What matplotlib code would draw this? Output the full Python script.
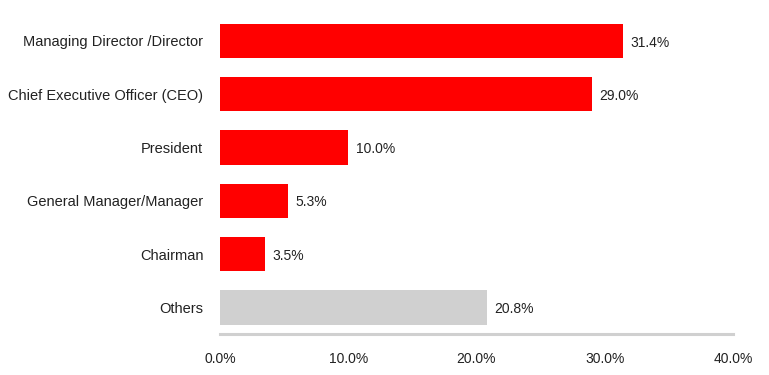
import matplotlib
matplotlib.use("Agg")
import matplotlib.pyplot as plt
from matplotlib.ticker import FuncFormatter

categories = ["Managing Director /Director", "Chief Executive Officer (CEO)", "President",
              "General Manager/Manager", "Chairman", "Others"]
values = [31.4, 29.0, 10.0, 5.3, 3.5, 20.8]
colors = ["#FF0000"] * 5 + ["#D0D0D0"]

plt.rcParams['font.family'] = ['Liberation Sans', 'DejaVu Sans']

fig = plt.figure(figsize=(7.69, 3.75), dpi=100)
ax = fig.add_axes([0.286, 0.109, 0.667, 0.853])

ypos = list(range(len(categories)))
ax.barh(ypos, values, height=0.64, color=colors)
for y, v in zip(ypos, values):
    ax.text(v + 0.6, y + 0.03, f"{v:.1f}%", va="center", ha="left", fontsize=10, color="#222222")

ax.set_xlim(0, 40)
ax.set_ylim(5.5, -0.5)
ax.set_yticks(ypos)
ax.set_yticklabels(categories, fontsize=10.5, color="#222222")
ax.set_xticks([0, 10, 20, 30, 40])
ax.xaxis.set_major_formatter(FuncFormatter(lambda x, p: f"{x:.1f}%"))
ax.tick_params(axis="x", length=0, pad=13, labelsize=10, labelcolor="#222222")
ax.tick_params(axis="y", length=0, pad=12)

for s in ["top", "right", "left"]:
    ax.spines[s].set_visible(False)
ax.spines["bottom"].set_color("#D0D0D0")
ax.spines["bottom"].set_linewidth(2.2)

fig.savefig("out.png", dpi=100)
